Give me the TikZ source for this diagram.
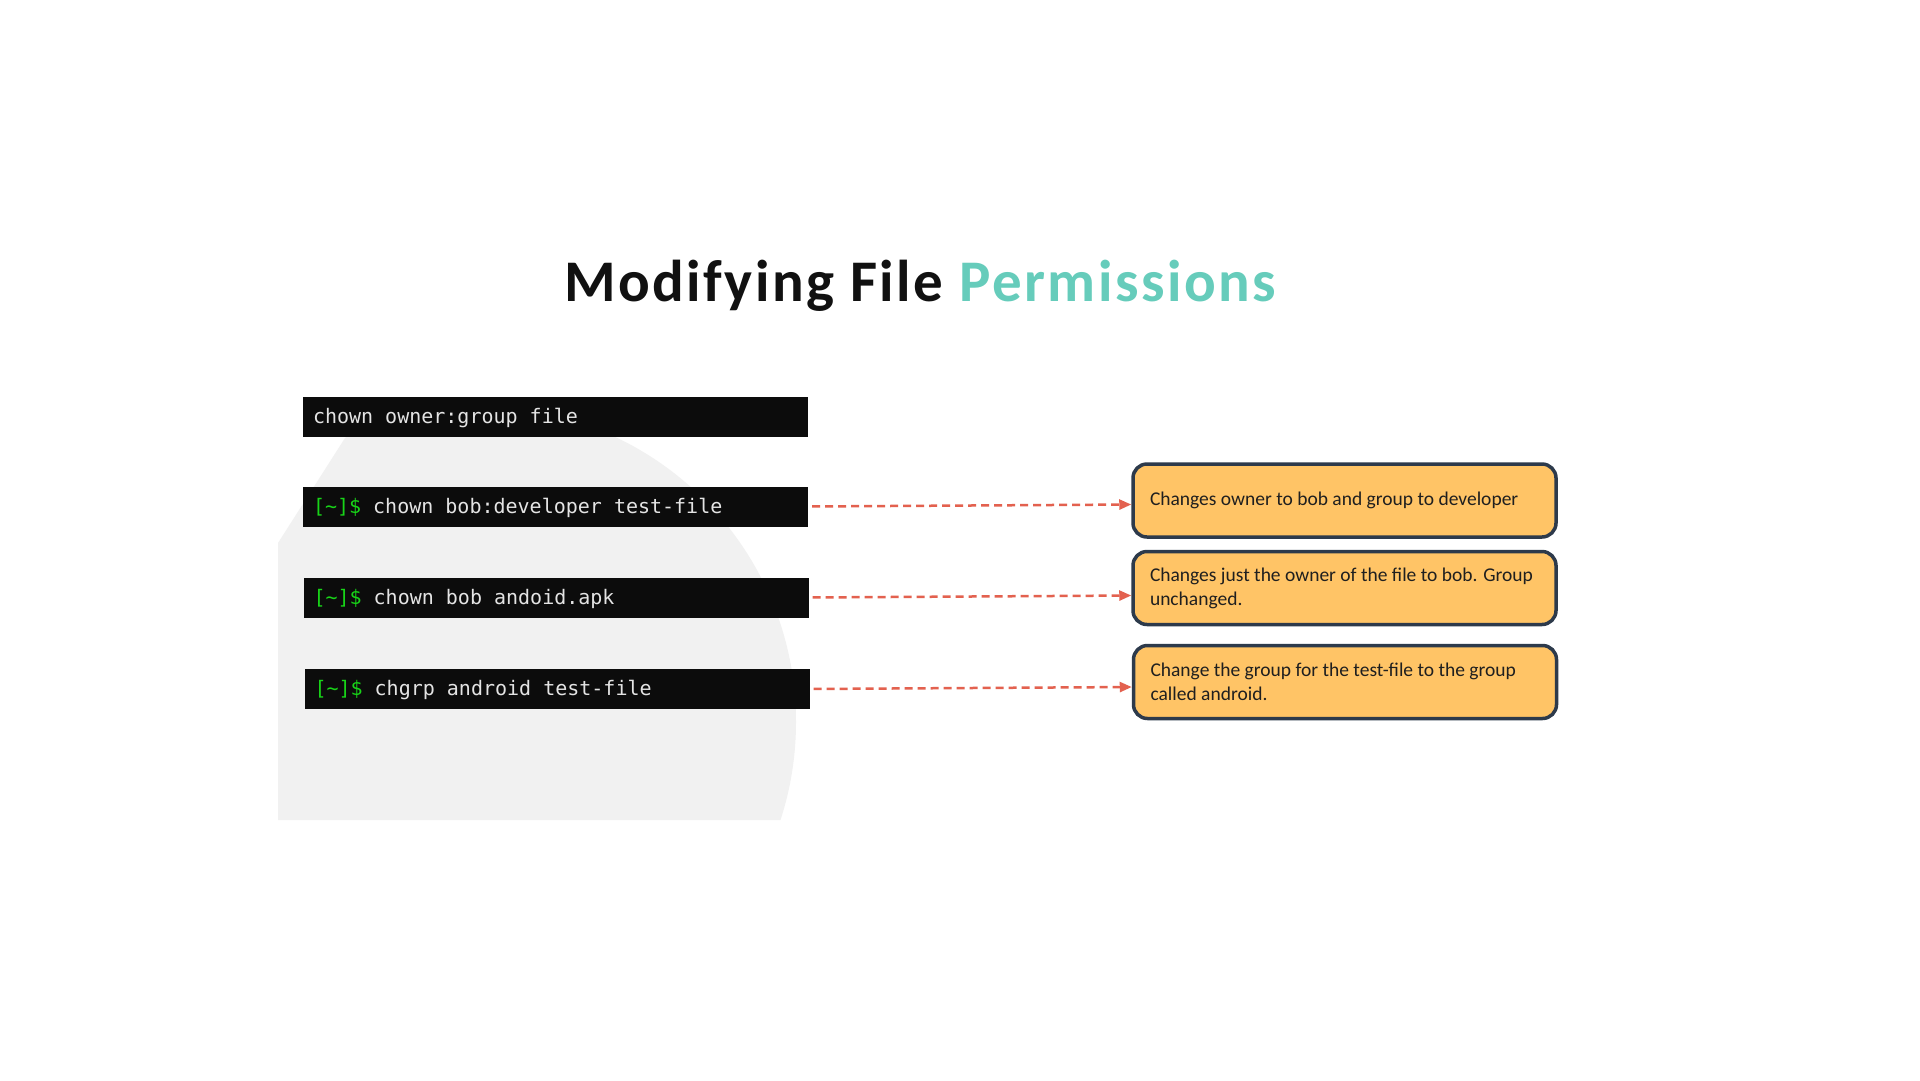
\documentclass[tikz,border=0pt]{standalone}
\usepackage{fontspec}
\setmainfont{Carlito}
\newfontfamily\termfont{DejaVu Sans Mono}
\newfontfamily\headfont[LetterSpace=4.2]{Carlito}
\usetikzlibrary{arrows.meta}
\definecolor{termbg}{HTML}{0C0C0C}
\definecolor{termfg}{HTML}{E4E4E4}
\definecolor{promptgreen}{HTML}{18D418}
\definecolor{blobgray}{HTML}{F1F1F1}
\definecolor{arrowred}{HTML}{E3614F}
\definecolor{notefill}{HTML}{FFC466}
\definecolor{noteline}{HTML}{2D3A4B}
\definecolor{titleteal}{HTML}{66CCBB}
\definecolor{titleblack}{HTML}{111111}
\newcommand\natsp{\spaceskip=0pt\xspaceskip=0pt\relax}
\begin{document}
\begin{tikzpicture}[x=1pt,y=-1pt,
  termbox/.style={fill=termbg, minimum width=505pt, minimum height=40pt,
    text width=485pt, inner xsep=10pt, inner ysep=0pt, align=left,
    text height=13pt, text depth=0pt,
    font=\termfont\fontsize{20}{24}\selectfont, text=termfg},
  note/.style={draw=noteline, line width=3.5pt, fill=notefill,
    rounded corners=14pt, minimum width=423pt, minimum height=73pt,
    text width=389pt, inner xsep=17pt, align=left,
    font=\fontsize{19.5}{24}\selectfont, text=black!88},
  link/.style={draw=arrowred, line width=2.5pt, dash pattern=on 8pt off 5pt,
    -{Triangle[length=12pt,width=10pt]}, shorten <=4pt}]
\useasboundingbox[fill=white] (0,0) rectangle (1920,1080);
% background blob
\begin{scope}
  \clip (278,820) -- (278,543) -- (345,438) -- (345,300) -- (900,300) -- (900,820) -- cycle;
  \fill[blobgray] (481,722) circle[radius=315pt];
\end{scope}
% title
\node[anchor=base west, inner sep=0pt, text=titleblack] (title) at (564,301)
  {\headfont\bfseries\fontsize{59}{64}\selectfont Modifying File \textcolor{titleteal}{Permissions}};
% terminal lines
\node[termbox] (t1) at (555.5,416.5) {\natsp chown owner:group file};
\node[termbox] (t2) at (555.5,506.5) {\natsp\textcolor{promptgreen}{[\textasciitilde]\$} chown bob:developer test-file};
\node[termbox] (t3) at (556,597.5) {\natsp\textcolor{promptgreen}{[\textasciitilde]\$} chown bob andoid.apk};
\node[termbox] (t4) at (557,689) {\natsp\textcolor{promptgreen}{[\textasciitilde]\$} chgrp android test-file};
% notes
\node[note] (n1) at (1344.5,500.5) {\natsp Changes owner to bob and group to developer};
\node[note] (n2) at (1344.5,588) {\natsp Changes just the owner of the file to bob. Group\\unchanged.};
\node[note] (n3) at (1345,682) {\natsp Change the group for the test-file to the group\\called android.};
% connectors
\draw[link] (t2.east) -- ([yshift=2pt]t2.east -| n1.west);
\draw[link] (t3.east) -- ([yshift=2pt]t3.east -| n2.west);
\draw[link] (t4.east) -- ([yshift=2pt]t4.east -| n3.west);
\end{tikzpicture}
\end{document}
